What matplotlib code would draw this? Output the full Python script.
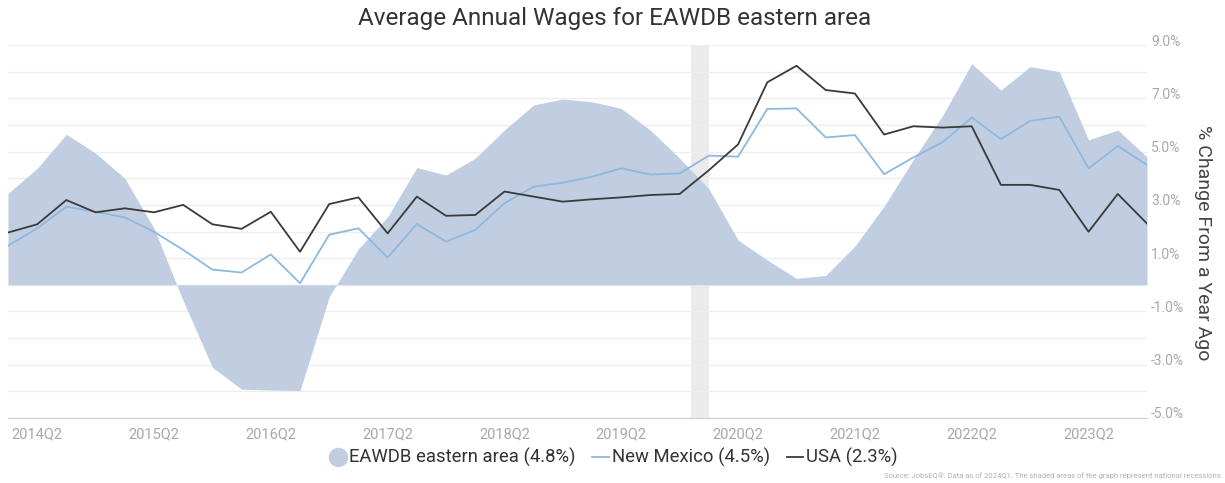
import numpy as np
import matplotlib.pyplot as plt
import matplotlib.transforms as mtransforms
from matplotlib.lines import Line2D

plt.rcParams['font.family'] = ['Roboto', 'DejaVu Sans']

# quarterly series, % change from a year ago
quarters = [f"{y}Q{q}" for y in range(2014, 2024) for q in range(1, 5)]

eawdb = [3.43, 4.37, 5.65, 4.94, 4.00, 2.12, -0.60, -3.10, -3.92, -3.95,
         -3.97, -0.45, 1.35, 2.55, 4.40, 4.12, 4.75, 5.81, 6.75, 6.97,
         6.87, 6.62, 5.80, 4.75, 3.60, 1.68, 0.93, 0.24, 0.35, 1.45,
         2.95, 4.70, 6.35, 8.30, 7.31, 8.19, 8.00, 5.44, 5.81, 4.80]

new_mexico = [1.46, 2.12, 2.93, 2.74, 2.53, 1.99, 1.31, 0.57, 0.46, 1.14,
              0.06, 1.88, 2.12, 1.02, 2.28, 1.62, 2.06, 3.06, 3.68, 3.83,
              4.06, 4.37, 4.14, 4.18, 4.85, 4.81, 6.60, 6.62, 5.53, 5.62,
              4.15, 4.78, 5.35, 6.28, 5.47, 6.15, 6.31, 4.37, 5.21, 4.50]

usa = [1.96, 2.27, 3.18, 2.72, 2.87, 2.72, 3.00, 2.27, 2.10, 2.74,
       1.24, 3.03, 3.28, 1.93, 3.31, 2.59, 2.62, 3.50, 3.31, 3.12,
       3.21, 3.28, 3.37, 3.41, 4.30, 5.27, 7.60, 8.22, 7.31, 7.18,
       5.64, 5.95, 5.90, 5.95, 3.75, 3.75, 3.56, 1.99, 3.41, 2.30]

# national recession, in quarter-index units
recession = (23.4, 24.0)

x = np.arange(len(quarters))
area_color = '#c1cee1'
nm_color = '#8db9e0'
usa_color = '#3a3a3a'

fig = plt.figure(figsize=(12.25, 4.83), dpi=100)
ax = fig.add_axes([0.0065, 0.1346, 0.9298, 0.7722])

ax.axvspan(recession[0], recession[1], color='#ebebeb', zorder=0.5, lw=0)
ax.fill_between(x, 0, eawdb, color=area_color, lw=0, zorder=1)
ax.plot(x, new_mexico, color=nm_color, lw=1.3, zorder=3)
ax.plot(x, usa, color=usa_color, lw=1.3, zorder=4)

ax.set_xlim(0, len(quarters) - 1)
ax.set_ylim(-5, 9)

yvals = np.arange(-5, 10, 1)
ax.grid(axis='y', color='#eeeeee', lw=1, zorder=0)
ax.set_axisbelow(True)
ax.yaxis.tick_right()
ax.set_yticks(yvals)
ax.set_yticklabels([f"{v:.1f}%" if v % 2 else "" for v in yvals])
ax.tick_params(axis='y', length=0, pad=3, labelsize=10, labelcolor='#a8a8a8')
offset = mtransforms.ScaledTranslation(0, 5 / 100, fig.dpi_scale_trans)
for lbl in ax.get_yticklabels():
    lbl.set_transform(lbl.get_transform() + offset)

tick_idx = list(range(1, len(quarters), 4))
ax.set_xticks(tick_idx)
ax.set_xticklabels([quarters[i] for i in tick_idx])
ax.tick_params(axis='x', length=0, pad=7, labelsize=10.5, labelcolor='#a8a8a8')

for side in ['top', 'left', 'right']:
    ax.spines[side].set_visible(False)
ax.spines['bottom'].set_color('#cccccc')

fig.text(0.502, 0.962, "Average Annual Wages for EAWDB eastern area",
         ha='center', va='center', fontsize=17.5, color='#333333')
fig.text(0.982, 0.497, "% Change From a Year Ago", rotation=270,
         ha='center', va='center', fontsize=14, color='#444444')

handles = [
    Line2D([], [], marker='o', ls='none', markersize=13,
           markerfacecolor=area_color, markeredgecolor=area_color),
    Line2D([], [], color=nm_color, lw=1.3),
    Line2D([], [], color=usa_color, lw=1.3),
]
labels = ["EAWDB eastern area (4.8%)", "New Mexico (4.5%)", "USA (2.3%)"]
fig.legend(handles, labels, loc='center', bbox_to_anchor=(0.501, 0.052), ncol=3,
           frameon=False, fontsize=13.3, handlelength=0.9, handletextpad=0.15,
           columnspacing=0.9, labelcolor='#333333')

fig.text(0.998, 0.015,
         "Source: JobsEQ®. Data as of 2024Q1. The shaded areas of the graph represent national recessions.",
         ha='right', va='center', fontsize=5.5, color='#b0b0b0')

fig.savefig("out.png", dpi=100)
